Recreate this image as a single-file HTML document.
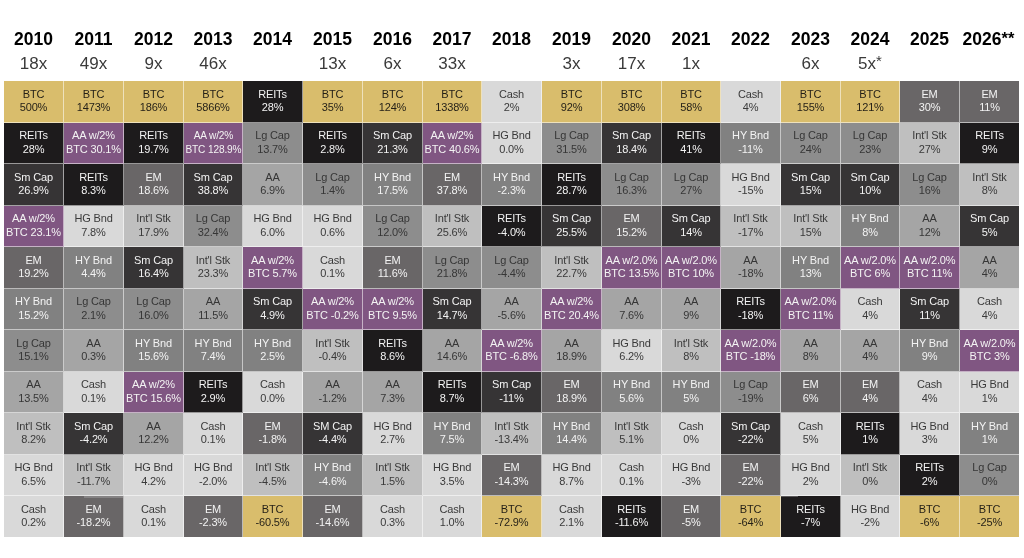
<!DOCTYPE html>
<html><head><meta charset="utf-8"><title>Asset class returns</title>
<style>
html,body{margin:0;padding:0;background:#fff;}
body{width:1024px;height:558px;position:relative;overflow:hidden;font-family:"Liberation Sans",Arial,Helvetica,sans-serif;}
.yr,.mx{position:absolute;text-align:center;white-space:nowrap;}
.yr{top:29px;font-size:17.5px;font-weight:bold;color:#000;line-height:20px;}
.mx{top:54px;font-size:17px;color:#3a3a3a;line-height:20px;}
.c{position:absolute;box-sizing:border-box;border-right:1px solid rgba(255,255,255,.55);border-bottom:1px solid rgba(255,255,255,.55);display:flex;align-items:center;justify-content:center;text-align:center;font-size:11px;line-height:13.5px;white-space:nowrap;letter-spacing:-0.15px;}
.c.lc{border-right:0;}
.c.lr{border-bottom:0;}
.c span{display:block;margin-top:-1px;}
.c.nar span{transform:scaleX(.92);}
.btc{background:#d9bd6c;color:#231f17;}
.reit{background:#1d1b1c;color:#f3f3f3;}
.aab{background:#805682;color:#f3f3f3;}
.sm{background:#363435;color:#f3f3f3;}
.em{background:#696667;color:#f3f3f3;}
.hy{background:#818181;color:#f3f3f3;}
.lg{background:#8d8d8d;color:#363636;}
.aa{background:#a5a5a5;color:#363636;}
.intl{background:#bfbfbf;color:#3a3a3a;}
.hg{background:#d9d9d9;color:#3a3a3a;}
.cash{background:#d9d9d9;color:#3a3a3a;}
.art{position:absolute;left:84px;top:496px;width:39px;height:2px;background:#858384;}
.art2{position:absolute;left:781px;top:496px;width:17px;height:1px;background:#5a5859;}
.ast{font-size:15px;position:relative;top:-3.5px;}
.ast2{font-size:16.5px;position:relative;top:-1.5px;}

</style></head><body>
<div class="yr" style="left:4px;width:59px">2010</div>
<div class="mx" style="left:4px;width:59px">18x</div>
<div class="yr" style="left:64px;width:59px">2011</div>
<div class="mx" style="left:64px;width:59px">49x</div>
<div class="yr" style="left:124px;width:59px">2012</div>
<div class="mx" style="left:124px;width:59px">9x</div>
<div class="yr" style="left:184px;width:58px">2013</div>
<div class="mx" style="left:184px;width:58px">46x</div>
<div class="yr" style="left:243px;width:59px">2014</div>
<div class="yr" style="left:303px;width:59px">2015</div>
<div class="mx" style="left:303px;width:59px">13x</div>
<div class="yr" style="left:363px;width:59px">2016</div>
<div class="mx" style="left:363px;width:59px">6x</div>
<div class="yr" style="left:423px;width:58px">2017</div>
<div class="mx" style="left:423px;width:58px">33x</div>
<div class="yr" style="left:482px;width:59px">2018</div>
<div class="yr" style="left:542px;width:59px">2019</div>
<div class="mx" style="left:542px;width:59px">3x</div>
<div class="yr" style="left:602px;width:59px">2020</div>
<div class="mx" style="left:602px;width:59px">17x</div>
<div class="yr" style="left:662px;width:58px">2021</div>
<div class="mx" style="left:662px;width:58px">1x</div>
<div class="yr" style="left:721px;width:59px">2022</div>
<div class="yr" style="left:781px;width:59px">2023</div>
<div class="mx" style="left:781px;width:59px">6x</div>
<div class="yr" style="left:841px;width:58px">2024</div>
<div class="mx" style="left:841px;width:58px">5x<span class="ast">*</span></div>
<div class="yr" style="left:900px;width:59px">2025</div>
<div class="yr" style="left:959px;width:59px">2026<span class="ast2">**</span></div>
<div class="c btc" style="left:4px;top:81px;width:60px;height:42px"><span>BTC<br>500%</span></div>
<div class="c reit" style="left:4px;top:123px;width:60px;height:41px"><span>REITs<br>28%</span></div>
<div class="c sm" style="left:4px;top:164px;width:60px;height:42px"><span>Sm Cap<br>26.9%</span></div>
<div class="c aab" style="left:4px;top:206px;width:60px;height:41px"><span>AA w/2%<br>BTC 23.1%</span></div>
<div class="c em" style="left:4px;top:247px;width:60px;height:42px"><span>EM<br>19.2%</span></div>
<div class="c hy" style="left:4px;top:289px;width:60px;height:41px"><span>HY Bnd<br>15.2%</span></div>
<div class="c lg" style="left:4px;top:330px;width:60px;height:42px"><span>Lg Cap<br>15.1%</span></div>
<div class="c aa" style="left:4px;top:372px;width:60px;height:41px"><span>AA<br>13.5%</span></div>
<div class="c intl" style="left:4px;top:413px;width:60px;height:42px"><span>Int'l Stk<br>8.2%</span></div>
<div class="c hg" style="left:4px;top:455px;width:60px;height:41px"><span>HG Bnd<br>6.5%</span></div>
<div class="c cash lr" style="left:4px;top:496px;width:60px;height:41px"><span>Cash<br>0.2%</span></div>
<div class="c btc" style="left:64px;top:81px;width:60px;height:42px"><span>BTC<br>1473%</span></div>
<div class="c aab" style="left:64px;top:123px;width:60px;height:41px"><span>AA w/2%<br>BTC 30.1%</span></div>
<div class="c reit" style="left:64px;top:164px;width:60px;height:42px"><span>REITs<br>8.3%</span></div>
<div class="c hg" style="left:64px;top:206px;width:60px;height:41px"><span>HG Bnd<br>7.8%</span></div>
<div class="c hy" style="left:64px;top:247px;width:60px;height:42px"><span>HY Bnd<br>4.4%</span></div>
<div class="c lg" style="left:64px;top:289px;width:60px;height:41px"><span>Lg Cap<br>2.1%</span></div>
<div class="c aa" style="left:64px;top:330px;width:60px;height:42px"><span>AA<br>0.3%</span></div>
<div class="c cash" style="left:64px;top:372px;width:60px;height:41px"><span>Cash<br>0.1%</span></div>
<div class="c sm" style="left:64px;top:413px;width:60px;height:42px"><span>Sm Cap<br>-4.2%</span></div>
<div class="c intl" style="left:64px;top:455px;width:60px;height:41px"><span>Int'l Stk<br>-11.7%</span></div>
<div class="c em lr" style="left:64px;top:496px;width:60px;height:41px"><span>EM<br>-18.2%</span></div>
<div class="c btc" style="left:124px;top:81px;width:60px;height:42px"><span>BTC<br>186%</span></div>
<div class="c reit" style="left:124px;top:123px;width:60px;height:41px"><span>REITs<br>19.7%</span></div>
<div class="c em" style="left:124px;top:164px;width:60px;height:42px"><span>EM<br>18.6%</span></div>
<div class="c intl" style="left:124px;top:206px;width:60px;height:41px"><span>Int'l Stk<br>17.9%</span></div>
<div class="c sm" style="left:124px;top:247px;width:60px;height:42px"><span>Sm Cap<br>16.4%</span></div>
<div class="c lg" style="left:124px;top:289px;width:60px;height:41px"><span>Lg Cap<br>16.0%</span></div>
<div class="c hy" style="left:124px;top:330px;width:60px;height:42px"><span>HY Bnd<br>15.6%</span></div>
<div class="c aab" style="left:124px;top:372px;width:60px;height:41px"><span>AA w/2%<br>BTC 15.6%</span></div>
<div class="c aa" style="left:124px;top:413px;width:60px;height:42px"><span>AA<br>12.2%</span></div>
<div class="c hg" style="left:124px;top:455px;width:60px;height:41px"><span>HG Bnd<br>4.2%</span></div>
<div class="c cash lr" style="left:124px;top:496px;width:60px;height:41px"><span>Cash<br>0.1%</span></div>
<div class="c btc" style="left:184px;top:81px;width:59px;height:42px"><span>BTC<br>5866%</span></div>
<div class="c aab nar" style="left:184px;top:123px;width:59px;height:41px"><span>AA w/2%<br>BTC 128.9%</span></div>
<div class="c sm" style="left:184px;top:164px;width:59px;height:42px"><span>Sm Cap<br>38.8%</span></div>
<div class="c lg" style="left:184px;top:206px;width:59px;height:41px"><span>Lg Cap<br>32.4%</span></div>
<div class="c intl" style="left:184px;top:247px;width:59px;height:42px"><span>Int'l Stk<br>23.3%</span></div>
<div class="c aa" style="left:184px;top:289px;width:59px;height:41px"><span>AA<br>11.5%</span></div>
<div class="c hy" style="left:184px;top:330px;width:59px;height:42px"><span>HY Bnd<br>7.4%</span></div>
<div class="c reit" style="left:184px;top:372px;width:59px;height:41px"><span>REITs<br>2.9%</span></div>
<div class="c cash" style="left:184px;top:413px;width:59px;height:42px"><span>Cash<br>0.1%</span></div>
<div class="c hg" style="left:184px;top:455px;width:59px;height:41px"><span>HG Bnd<br>-2.0%</span></div>
<div class="c em lr" style="left:184px;top:496px;width:59px;height:41px"><span>EM<br>-2.3%</span></div>
<div class="c reit" style="left:243px;top:81px;width:60px;height:42px"><span>REITs<br>28%</span></div>
<div class="c lg" style="left:243px;top:123px;width:60px;height:41px"><span>Lg Cap<br>13.7%</span></div>
<div class="c aa" style="left:243px;top:164px;width:60px;height:42px"><span>AA<br>6.9%</span></div>
<div class="c hg" style="left:243px;top:206px;width:60px;height:41px"><span>HG Bnd<br>6.0%</span></div>
<div class="c aab" style="left:243px;top:247px;width:60px;height:42px"><span>AA w/2%<br>BTC 5.7%</span></div>
<div class="c sm" style="left:243px;top:289px;width:60px;height:41px"><span>Sm Cap<br>4.9%</span></div>
<div class="c hy" style="left:243px;top:330px;width:60px;height:42px"><span>HY Bnd<br>2.5%</span></div>
<div class="c cash" style="left:243px;top:372px;width:60px;height:41px"><span>Cash<br>0.0%</span></div>
<div class="c em" style="left:243px;top:413px;width:60px;height:42px"><span>EM<br>-1.8%</span></div>
<div class="c intl" style="left:243px;top:455px;width:60px;height:41px"><span>Int'l Stk<br>-4.5%</span></div>
<div class="c btc lr" style="left:243px;top:496px;width:60px;height:41px"><span>BTC<br>-60.5%</span></div>
<div class="c btc" style="left:303px;top:81px;width:60px;height:42px"><span>BTC<br>35%</span></div>
<div class="c reit" style="left:303px;top:123px;width:60px;height:41px"><span>REITs<br>2.8%</span></div>
<div class="c lg" style="left:303px;top:164px;width:60px;height:42px"><span>Lg Cap<br>1.4%</span></div>
<div class="c hg" style="left:303px;top:206px;width:60px;height:41px"><span>HG Bnd<br>0.6%</span></div>
<div class="c cash" style="left:303px;top:247px;width:60px;height:42px"><span>Cash<br>0.1%</span></div>
<div class="c aab" style="left:303px;top:289px;width:60px;height:41px"><span>AA w/2%<br>BTC -0.2%</span></div>
<div class="c intl" style="left:303px;top:330px;width:60px;height:42px"><span>Int'l Stk<br>-0.4%</span></div>
<div class="c aa" style="left:303px;top:372px;width:60px;height:41px"><span>AA<br>-1.2%</span></div>
<div class="c sm" style="left:303px;top:413px;width:60px;height:42px"><span>SM Cap<br>-4.4%</span></div>
<div class="c hy" style="left:303px;top:455px;width:60px;height:41px"><span>HY Bnd<br>-4.6%</span></div>
<div class="c em lr" style="left:303px;top:496px;width:60px;height:41px"><span>EM<br>-14.6%</span></div>
<div class="c btc" style="left:363px;top:81px;width:60px;height:42px"><span>BTC<br>124%</span></div>
<div class="c sm" style="left:363px;top:123px;width:60px;height:41px"><span>Sm Cap<br>21.3%</span></div>
<div class="c hy" style="left:363px;top:164px;width:60px;height:42px"><span>HY Bnd<br>17.5%</span></div>
<div class="c lg" style="left:363px;top:206px;width:60px;height:41px"><span>Lg Cap<br>12.0%</span></div>
<div class="c em" style="left:363px;top:247px;width:60px;height:42px"><span>EM<br>11.6%</span></div>
<div class="c aab" style="left:363px;top:289px;width:60px;height:41px"><span>AA w/2%<br>BTC 9.5%</span></div>
<div class="c reit" style="left:363px;top:330px;width:60px;height:42px"><span>REITs<br>8.6%</span></div>
<div class="c aa" style="left:363px;top:372px;width:60px;height:41px"><span>AA<br>7.3%</span></div>
<div class="c hg" style="left:363px;top:413px;width:60px;height:42px"><span>HG Bnd<br>2.7%</span></div>
<div class="c intl" style="left:363px;top:455px;width:60px;height:41px"><span>Int'l Stk<br>1.5%</span></div>
<div class="c cash lr" style="left:363px;top:496px;width:60px;height:41px"><span>Cash<br>0.3%</span></div>
<div class="c btc" style="left:423px;top:81px;width:59px;height:42px"><span>BTC<br>1338%</span></div>
<div class="c aab" style="left:423px;top:123px;width:59px;height:41px"><span>AA w/2%<br>BTC 40.6%</span></div>
<div class="c em" style="left:423px;top:164px;width:59px;height:42px"><span>EM<br>37.8%</span></div>
<div class="c intl" style="left:423px;top:206px;width:59px;height:41px"><span>Int'l Stk<br>25.6%</span></div>
<div class="c lg" style="left:423px;top:247px;width:59px;height:42px"><span>Lg Cap<br>21.8%</span></div>
<div class="c sm" style="left:423px;top:289px;width:59px;height:41px"><span>Sm Cap<br>14.7%</span></div>
<div class="c aa" style="left:423px;top:330px;width:59px;height:42px"><span>AA<br>14.6%</span></div>
<div class="c reit" style="left:423px;top:372px;width:59px;height:41px"><span>REITs<br>8.7%</span></div>
<div class="c hy" style="left:423px;top:413px;width:59px;height:42px"><span>HY Bnd<br>7.5%</span></div>
<div class="c hg" style="left:423px;top:455px;width:59px;height:41px"><span>HG Bnd<br>3.5%</span></div>
<div class="c cash lr" style="left:423px;top:496px;width:59px;height:41px"><span>Cash<br>1.0%</span></div>
<div class="c cash" style="left:482px;top:81px;width:60px;height:42px"><span>Cash<br>2%</span></div>
<div class="c hg" style="left:482px;top:123px;width:60px;height:41px"><span>HG Bnd<br>0.0%</span></div>
<div class="c hy" style="left:482px;top:164px;width:60px;height:42px"><span>HY Bnd<br>-2.3%</span></div>
<div class="c reit" style="left:482px;top:206px;width:60px;height:41px"><span>REITs<br>-4.0%</span></div>
<div class="c lg" style="left:482px;top:247px;width:60px;height:42px"><span>Lg Cap<br>-4.4%</span></div>
<div class="c aa" style="left:482px;top:289px;width:60px;height:41px"><span>AA<br>-5.6%</span></div>
<div class="c aab" style="left:482px;top:330px;width:60px;height:42px"><span>AA w/2%<br>BTC -6.8%</span></div>
<div class="c sm" style="left:482px;top:372px;width:60px;height:41px"><span>Sm Cap<br>-11%</span></div>
<div class="c intl" style="left:482px;top:413px;width:60px;height:42px"><span>Int'l Stk<br>-13.4%</span></div>
<div class="c em" style="left:482px;top:455px;width:60px;height:41px"><span>EM<br>-14.3%</span></div>
<div class="c btc lr" style="left:482px;top:496px;width:60px;height:41px"><span>BTC<br>-72.9%</span></div>
<div class="c btc" style="left:542px;top:81px;width:60px;height:42px"><span>BTC<br>92%</span></div>
<div class="c lg" style="left:542px;top:123px;width:60px;height:41px"><span>Lg Cap<br>31.5%</span></div>
<div class="c reit" style="left:542px;top:164px;width:60px;height:42px"><span>REITs<br>28.7%</span></div>
<div class="c sm" style="left:542px;top:206px;width:60px;height:41px"><span>Sm Cap<br>25.5%</span></div>
<div class="c intl" style="left:542px;top:247px;width:60px;height:42px"><span>Int'l Stk<br>22.7%</span></div>
<div class="c aab" style="left:542px;top:289px;width:60px;height:41px"><span>AA w/2%<br>BTC 20.4%</span></div>
<div class="c aa" style="left:542px;top:330px;width:60px;height:42px"><span>AA<br>18.9%</span></div>
<div class="c em" style="left:542px;top:372px;width:60px;height:41px"><span>EM<br>18.9%</span></div>
<div class="c hy" style="left:542px;top:413px;width:60px;height:42px"><span>HY Bnd<br>14.4%</span></div>
<div class="c hg" style="left:542px;top:455px;width:60px;height:41px"><span>HG Bnd<br>8.7%</span></div>
<div class="c cash lr" style="left:542px;top:496px;width:60px;height:41px"><span>Cash<br>2.1%</span></div>
<div class="c btc" style="left:602px;top:81px;width:60px;height:42px"><span>BTC<br>308%</span></div>
<div class="c sm" style="left:602px;top:123px;width:60px;height:41px"><span>Sm Cap<br>18.4%</span></div>
<div class="c lg" style="left:602px;top:164px;width:60px;height:42px"><span>Lg Cap<br>16.3%</span></div>
<div class="c em" style="left:602px;top:206px;width:60px;height:41px"><span>EM<br>15.2%</span></div>
<div class="c aab" style="left:602px;top:247px;width:60px;height:42px"><span>AA w/2.0%<br>BTC 13.5%</span></div>
<div class="c aa" style="left:602px;top:289px;width:60px;height:41px"><span>AA<br>7.6%</span></div>
<div class="c hg" style="left:602px;top:330px;width:60px;height:42px"><span>HG Bnd<br>6.2%</span></div>
<div class="c hy" style="left:602px;top:372px;width:60px;height:41px"><span>HY Bnd<br>5.6%</span></div>
<div class="c intl" style="left:602px;top:413px;width:60px;height:42px"><span>Int'l Stk<br>5.1%</span></div>
<div class="c cash" style="left:602px;top:455px;width:60px;height:41px"><span>Cash<br>0.1%</span></div>
<div class="c reit lr" style="left:602px;top:496px;width:60px;height:41px"><span>REITs<br>-11.6%</span></div>
<div class="c btc" style="left:662px;top:81px;width:59px;height:42px"><span>BTC<br>58%</span></div>
<div class="c reit" style="left:662px;top:123px;width:59px;height:41px"><span>REITs<br>41%</span></div>
<div class="c lg" style="left:662px;top:164px;width:59px;height:42px"><span>Lg Cap<br>27%</span></div>
<div class="c sm" style="left:662px;top:206px;width:59px;height:41px"><span>Sm Cap<br>14%</span></div>
<div class="c aab" style="left:662px;top:247px;width:59px;height:42px"><span>AA w/2.0%<br>BTC 10%</span></div>
<div class="c aa" style="left:662px;top:289px;width:59px;height:41px"><span>AA<br>9%</span></div>
<div class="c intl" style="left:662px;top:330px;width:59px;height:42px"><span>Int'l Stk<br>8%</span></div>
<div class="c hy" style="left:662px;top:372px;width:59px;height:41px"><span>HY Bnd<br>5%</span></div>
<div class="c cash" style="left:662px;top:413px;width:59px;height:42px"><span>Cash<br>0%</span></div>
<div class="c hg" style="left:662px;top:455px;width:59px;height:41px"><span>HG Bnd<br>-3%</span></div>
<div class="c em lr" style="left:662px;top:496px;width:59px;height:41px"><span>EM<br>-5%</span></div>
<div class="c cash" style="left:721px;top:81px;width:60px;height:42px"><span>Cash<br>4%</span></div>
<div class="c hy" style="left:721px;top:123px;width:60px;height:41px"><span>HY Bnd<br>-11%</span></div>
<div class="c hg" style="left:721px;top:164px;width:60px;height:42px"><span>HG Bnd<br>-15%</span></div>
<div class="c intl" style="left:721px;top:206px;width:60px;height:41px"><span>Int'l Stk<br>-17%</span></div>
<div class="c aa" style="left:721px;top:247px;width:60px;height:42px"><span>AA<br>-18%</span></div>
<div class="c reit" style="left:721px;top:289px;width:60px;height:41px"><span>REITs<br>-18%</span></div>
<div class="c aab" style="left:721px;top:330px;width:60px;height:42px"><span>AA w/2.0%<br>BTC -18%</span></div>
<div class="c lg" style="left:721px;top:372px;width:60px;height:41px"><span>Lg Cap<br>-19%</span></div>
<div class="c sm" style="left:721px;top:413px;width:60px;height:42px"><span>Sm Cap<br>-22%</span></div>
<div class="c em" style="left:721px;top:455px;width:60px;height:41px"><span>EM<br>-22%</span></div>
<div class="c btc lr" style="left:721px;top:496px;width:60px;height:41px"><span>BTC<br>-64%</span></div>
<div class="c btc" style="left:781px;top:81px;width:60px;height:42px"><span>BTC<br>155%</span></div>
<div class="c lg" style="left:781px;top:123px;width:60px;height:41px"><span>Lg Cap<br>24%</span></div>
<div class="c sm" style="left:781px;top:164px;width:60px;height:42px"><span>Sm Cap<br>15%</span></div>
<div class="c intl" style="left:781px;top:206px;width:60px;height:41px"><span>Int'l Stk<br>15%</span></div>
<div class="c hy" style="left:781px;top:247px;width:60px;height:42px"><span>HY Bnd<br>13%</span></div>
<div class="c aab" style="left:781px;top:289px;width:60px;height:41px"><span>AA w/2.0%<br>BTC 11%</span></div>
<div class="c aa" style="left:781px;top:330px;width:60px;height:42px"><span>AA<br>8%</span></div>
<div class="c em" style="left:781px;top:372px;width:60px;height:41px"><span>EM<br>6%</span></div>
<div class="c cash" style="left:781px;top:413px;width:60px;height:42px"><span>Cash<br>5%</span></div>
<div class="c hg" style="left:781px;top:455px;width:60px;height:41px"><span>HG Bnd<br>2%</span></div>
<div class="c reit lr" style="left:781px;top:496px;width:60px;height:41px"><span>REITs<br>-7%</span></div>
<div class="c btc" style="left:841px;top:81px;width:59px;height:42px"><span>BTC<br>121%</span></div>
<div class="c lg" style="left:841px;top:123px;width:59px;height:41px"><span>Lg Cap<br>23%</span></div>
<div class="c sm" style="left:841px;top:164px;width:59px;height:42px"><span>Sm Cap<br>10%</span></div>
<div class="c hy" style="left:841px;top:206px;width:59px;height:41px"><span>HY Bnd<br>8%</span></div>
<div class="c aab" style="left:841px;top:247px;width:59px;height:42px"><span>AA w/2.0%<br>BTC 6%</span></div>
<div class="c cash" style="left:841px;top:289px;width:59px;height:41px"><span>Cash<br>4%</span></div>
<div class="c aa" style="left:841px;top:330px;width:59px;height:42px"><span>AA<br>4%</span></div>
<div class="c em" style="left:841px;top:372px;width:59px;height:41px"><span>EM<br>4%</span></div>
<div class="c reit" style="left:841px;top:413px;width:59px;height:42px"><span>REITs<br>1%</span></div>
<div class="c intl" style="left:841px;top:455px;width:59px;height:41px"><span>Int'l Stk<br>0%</span></div>
<div class="c hg lr" style="left:841px;top:496px;width:59px;height:41px"><span>HG Bnd<br>-2%</span></div>
<div class="c em" style="left:900px;top:81px;width:60px;height:42px"><span>EM<br>30%</span></div>
<div class="c intl" style="left:900px;top:123px;width:60px;height:41px"><span>Int'l Stk<br>27%</span></div>
<div class="c lg" style="left:900px;top:164px;width:60px;height:42px"><span>Lg Cap<br>16%</span></div>
<div class="c aa" style="left:900px;top:206px;width:60px;height:41px"><span>AA<br>12%</span></div>
<div class="c aab" style="left:900px;top:247px;width:60px;height:42px"><span>AA w/2.0%<br>BTC 11%</span></div>
<div class="c sm" style="left:900px;top:289px;width:60px;height:41px"><span>Sm Cap<br>11%</span></div>
<div class="c hy" style="left:900px;top:330px;width:60px;height:42px"><span>HY Bnd<br>9%</span></div>
<div class="c cash" style="left:900px;top:372px;width:60px;height:41px"><span>Cash<br>4%</span></div>
<div class="c hg" style="left:900px;top:413px;width:60px;height:42px"><span>HG Bnd<br>3%</span></div>
<div class="c reit" style="left:900px;top:455px;width:60px;height:41px"><span>REITs<br>2%</span></div>
<div class="c btc lr" style="left:900px;top:496px;width:60px;height:41px"><span>BTC<br>-6%</span></div>
<div class="c em lc" style="left:960px;top:81px;width:59px;height:42px"><span>EM<br>11%</span></div>
<div class="c reit lc" style="left:960px;top:123px;width:59px;height:41px"><span>REITs<br>9%</span></div>
<div class="c intl lc" style="left:960px;top:164px;width:59px;height:42px"><span>Int'l Stk<br>8%</span></div>
<div class="c sm lc" style="left:960px;top:206px;width:59px;height:41px"><span>Sm Cap<br>5%</span></div>
<div class="c aa lc" style="left:960px;top:247px;width:59px;height:42px"><span>AA<br>4%</span></div>
<div class="c cash lc" style="left:960px;top:289px;width:59px;height:41px"><span>Cash<br>4%</span></div>
<div class="c aab lc" style="left:960px;top:330px;width:59px;height:42px"><span>AA w/2.0%<br>BTC 3%</span></div>
<div class="c hg lc" style="left:960px;top:372px;width:59px;height:41px"><span>HG Bnd<br>1%</span></div>
<div class="c hy lc" style="left:960px;top:413px;width:59px;height:42px"><span>HY Bnd<br>1%</span></div>
<div class="c lg lc" style="left:960px;top:455px;width:59px;height:41px"><span>Lg Cap<br>0%</span></div>
<div class="c btc lc lr" style="left:960px;top:496px;width:59px;height:41px"><span>BTC<br>-25%</span></div>
<div class="art"></div><div class="art2"></div>
</body></html>
